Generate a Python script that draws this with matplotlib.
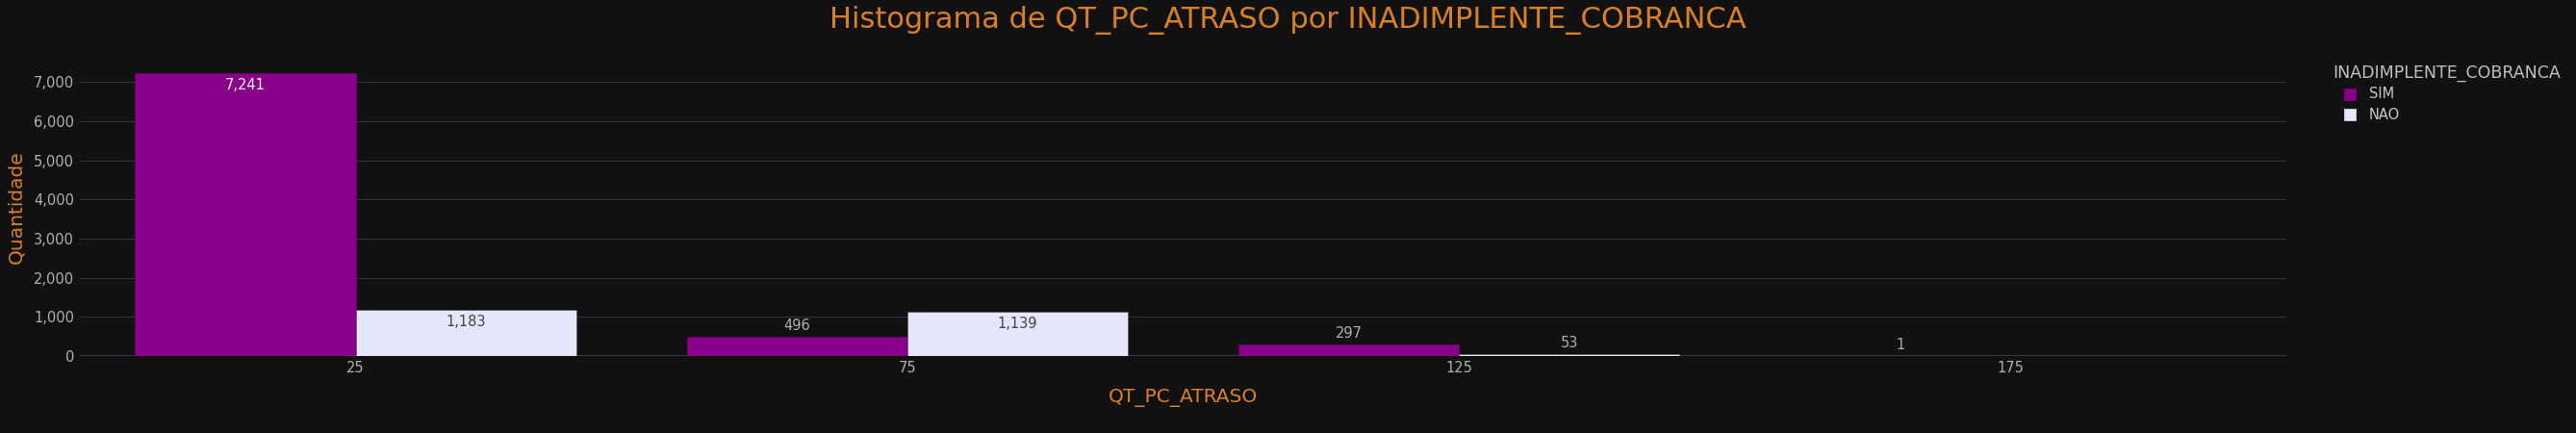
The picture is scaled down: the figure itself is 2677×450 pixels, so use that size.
import matplotlib
matplotlib.use("Agg")
import matplotlib.pyplot as plt
from matplotlib.patches import Rectangle
import numpy as np

# ---- data ----
bin_edges = [0, 50, 100, 150, 200]
tick_labels = ["25", "75", "125", "175"]
groups = ["SIM", "NAO"]
sim_counts = [7241, 496, 297, 1]
nao_counts = [1183, 1139, 53, None]   # no NAO record in last bin

BG = "#111111"
GRID = "#283442"
SIM_COLOR = "#8b008b"
NAO_COLOR = "#e6e6fa"
ORANGE = "#d98024"
TICK = "#b0b0b0"
PX = 0.72  # points per pixel at dpi 100
BARGAP = 0.2
W, H = 2677, 450

plt.rcParams['font.family'] = ['DejaVu Sans']

fig = plt.figure(figsize=(W / 100, H / 100), dpi=100, facecolor=BG)
ax = fig.add_axes([83 / W, 80 / H, (2376 - 83) / W, (370 - 60) / H])
ax.set_facecolor(BG)

edges = np.array(bin_edges, dtype=float)
centers = (edges[:-1] + edges[1:]) / 2
binw = edges[1:] - edges[:-1]
barw = binw * (1 - BARGAP) / 2

series = [
    (sim_counts, SIM_COLOR, -1, "#ffffff", "#6e006e"),
    (nao_counts, NAO_COLOR, +1, "#444444", "#5a5a66"),
]
for counts, color, side, inside_color, edge in series:
    for c, w, v in zip(centers, barw, counts):
        if v is None:
            continue
        x = c + side * w / 2
        ax.bar(x, v, width=w, color=color, edgecolor=edge, linewidth=0.5, zorder=3)
        label = f"{v:,}"
        if v > 800:
            ax.annotate(label, (x, v), xytext=(0, -13 * PX), textcoords="offset points",
                        ha="center", va="center", color=inside_color, fontsize=10.5, zorder=4)
        else:
            ax.annotate(label, (x, v), xytext=(0, 11 * PX), textcoords="offset points",
                        ha="center", va="center", color=TICK, fontsize=10.5, zorder=4)

ax.set_xlim(edges[0], edges[-1])
ymax = max(sim_counts) * 1.053
ax.set_ylim(0, ymax)

ax.set_xticks(centers)
ax.set_xticklabels(tick_labels)
ax.set_yticks(np.arange(0, 7001, 1000))
ax.yaxis.set_major_formatter(matplotlib.ticker.FuncFormatter(lambda v, p: f"{int(v):,}"))
ax.tick_params(axis="both", length=0, colors=TICK, labelsize=10.5)
ax.tick_params(axis="x", pad=5 * PX)
ax.tick_params(axis="y", pad=6 * PX)

ax.grid(axis="y", color=GRID, linewidth=1 * PX, zorder=0)
ax.grid(axis="x", visible=False)
ax.axhline(0, color="#2e3a4a", linewidth=2 * PX, zorder=2)
for s in ax.spines.values():
    s.set_visible(False)

ax.set_xlabel("QT_PC_ATRASO", color=ORANGE, fontsize=14.5, labelpad=14 * PX)
ax.set_ylabel("Quantidade", color=ORANGE, fontsize=14.5, labelpad=8 * PX)

fig.text(0.5, 1 - 21 / H, "Histograma de QT_PC_ATRASO por INADIMPLENTE_COBRANCA",
         ha="center", va="center", color=ORANGE, fontsize=22)

# ---- legend (plotly-style, drawn in figure pixels) ----
fig.text(2424 / W, 1 - 76 / H, "INADIMPLENTE_COBRANCA", ha="left", va="center",
         color="#c0c0c0", fontsize=12.5)
for i, (name, col) in enumerate(zip(groups, [SIM_COLOR, NAO_COLOR])):
    yc = 98 + i * 21
    fig.patches.append(Rectangle((2436 / W, 1 - (yc + 6) / H), 12 / W, 12 / H,
                                 transform=fig.transFigure, facecolor=col,
                                 edgecolor=col, linewidth=0.5, figure=fig))
    fig.text(2462 / W, 1 - yc / H, name, ha="left", va="center",
             color="#c8c8c8", fontsize=10.5)

fig.savefig("out.png", dpi=100, facecolor=BG)
